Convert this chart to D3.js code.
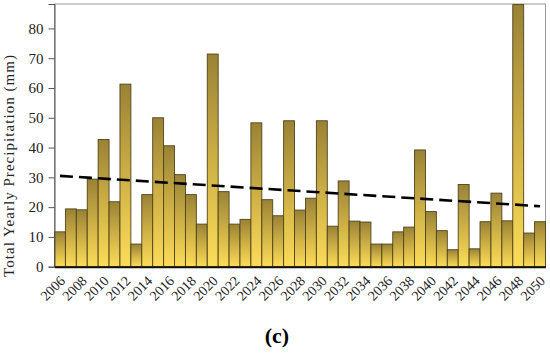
<!DOCTYPE html>
<html>
<head>
<meta charset="utf-8">
<script src="https://cdn.jsdelivr.net/npm/d3@7"></script>
<style>
  html, body { margin: 0; padding: 0; background: #fff; }
  svg { display: block; }
  svg text { font-family: "Liberation Serif", "DejaVu Serif", "Times New Roman", serif; }
</style>
</head>
<body>
<svg id="chart" width="550" height="353"></svg>
<script>
const years = d3.range(2006, 2051);
const precip = [
  11.7, 19.4, 19.1, 29.4, 42.7, 21.8, 61.3, 7.6, 24.2, 50.0,
  40.6, 30.9, 24.2, 14.3, 71.4, 25.2, 14.3, 15.9, 48.3, 22.5,
  17.1, 49.0, 19.0, 23.0, 49.0, 13.6, 28.8, 15.3, 15.0, 7.6,
  7.6, 11.7, 13.3, 39.2, 18.5, 12.1, 5.7, 27.6, 6.0, 15.1,
  24.7, 15.4, 88.0, 11.3, 15.1
];
const yTicks = [0, 10, 20, 30, 40, 50, 60, 70, 80];
const xTickYears = years.filter(y => y % 2 === 0);
const trendYears = [2006, 2050];
const trendValues = [30.5, 20.3];
const yLabel = "Total Yearly Precipitation (mm)";
const panelLabel = "(c)";

const svg = d3.select("#chart");
const m = { left: 54.5, right: 545.5, top: 4, bottom: 266.7 };
const serif = '"Liberation Serif", "DejaVu Serif", "Times New Roman", serif';

const x = d3.scaleBand().domain(years).range([m.left, m.right]).padding(0);
const y = d3.scaleLinear().domain([0, 88.2]).range([m.bottom, m.top]);

const defs = svg.append("defs");
const grad = defs.append("linearGradient").attr("id", "barGrad")
  .attr("x1", 0).attr("y1", 0).attr("x2", 0).attr("y2", 1);
grad.append("stop").attr("offset", "0%").attr("stop-color", "#9a8236");
grad.append("stop").attr("offset", "55%").attr("stop-color", "#d2b447");
grad.append("stop").attr("offset", "100%").attr("stop-color", "#fcdc58");

// frame (top/right)
svg.append("rect")
  .attr("x", m.left).attr("y", m.top)
  .attr("width", m.right - m.left).attr("height", m.bottom - m.top)
  .attr("fill", "none").attr("stroke", "#9a9a9a").attr("stroke-width", 1);

// bars
svg.append("g").selectAll("rect").data(years).join("rect")
  .attr("x", d => x(d))
  .attr("y", (d, i) => y(precip[i]))
  .attr("width", x.bandwidth())
  .attr("height", (d, i) => y(0) - y(precip[i]))
  .attr("fill", "url(#barGrad)")
  .attr("stroke", "#4f4319")
  .attr("stroke-width", 0.9);

// trend line
const line = d3.line()
  .x(d => x(d[0]) + x.bandwidth() / 2)
  .y(d => y(d[1]));
svg.append("path")
  .datum(trendYears.map((yr, i) => [yr, trendValues[i]]))
  .attr("d", line)
  .attr("fill", "none")
  .attr("stroke", "#000")
  .attr("stroke-width", 2.6)
  .attr("stroke-dasharray", "13,6");

// y axis
const yAxis = svg.append("g")
  .attr("transform", `translate(${m.left},0)`)
  .call(d3.axisLeft(y).tickValues(yTicks).tickSize(6).tickPadding(5));
yAxis.attr("font-family", serif);
yAxis.select(".domain").attr("stroke", "#555");
yAxis.selectAll(".tick line").attr("stroke", "#555");
yAxis.selectAll("text")
  .style("font-family", serif)
  .attr("font-size", 15).attr("fill", "#222");

// x axis
const xAxis = svg.append("g")
  .attr("transform", `translate(0,${m.bottom})`)
  .call(d3.axisBottom(x).tickValues(xTickYears).tickSize(0).tickPadding(0));
xAxis.attr("font-family", serif);
xAxis.select(".domain").attr("stroke", "#111").attr("stroke-width", 2);
xAxis.selectAll("text")
  .style("font-family", serif)
  .attr("font-size", 14).attr("fill", "#222")
  .attr("text-anchor", "end")
  .attr("dy", null)
  .attr("transform", "translate(6,15) rotate(-45)");

// y label
svg.append("text")
  .attr("transform", "translate(14,166) rotate(-90)")
  .attr("text-anchor", "middle")
  .style("font-family", serif)
  .attr("font-size", 15).attr("fill", "#222")
  .attr("textLength", 222)
  .attr("lengthAdjust", "spacing")
  .text(yLabel);

// panel label
svg.append("text")
  .attr("x", 277).attr("y", 343)
  .attr("text-anchor", "middle")
  .style("font-family", serif)
  .attr("font-weight", "bold")
  .attr("font-size", 22).attr("fill", "#000")
  .text(panelLabel);
</script>
</body>
</html>
